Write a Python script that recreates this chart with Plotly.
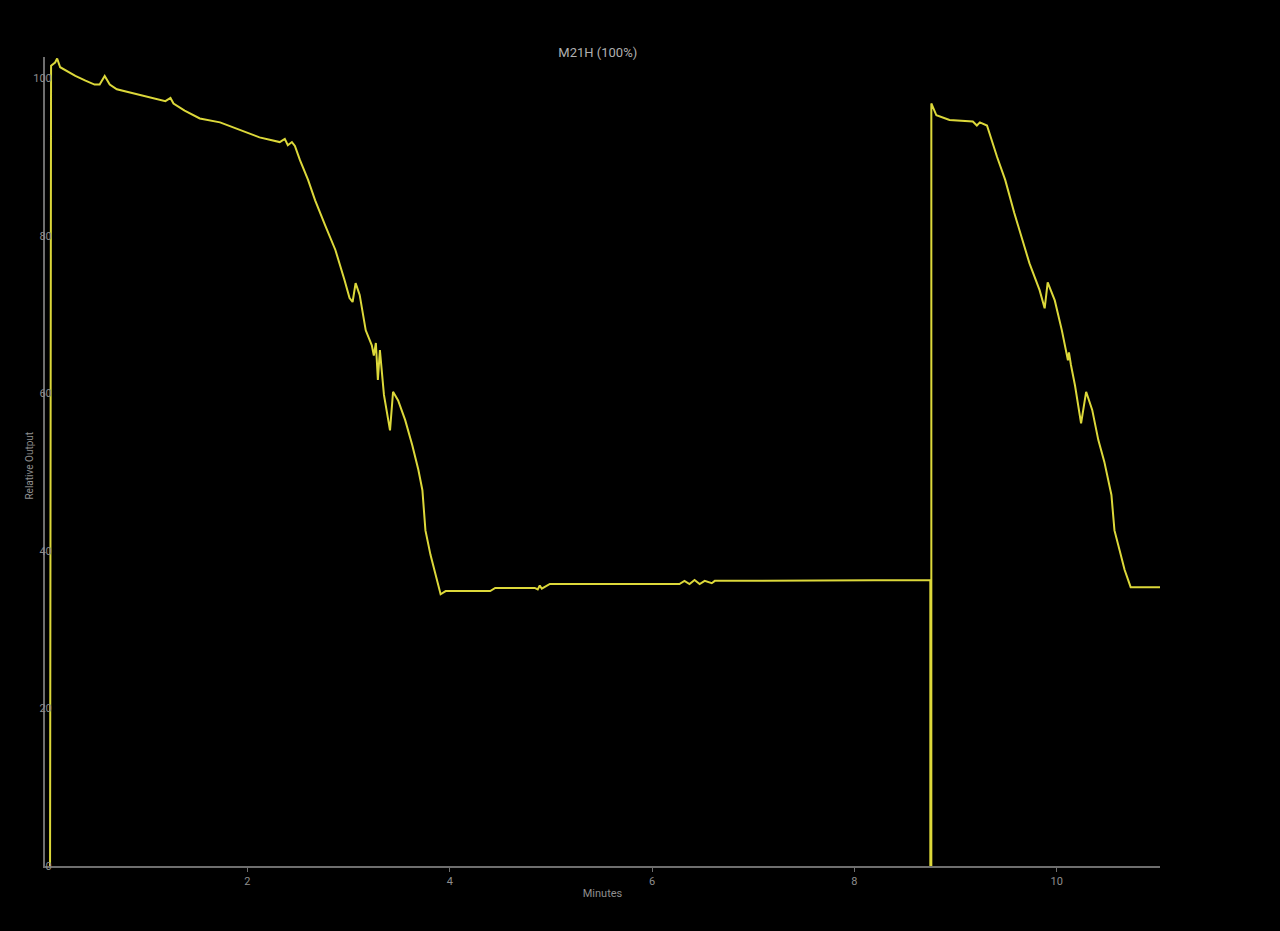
import plotly.graph_objects as go

# Time in minutes and relative output (%), aligned row by row (10 per row)
minutes = [
    0.05, 0.06, 0.10, 0.12, 0.15, 0.20, 0.30, 0.40, 0.49, 0.54,
    0.59, 0.64, 0.71, 0.84, 1.04, 1.19, 1.24, 1.27, 1.38, 1.53,
    1.73, 1.93, 2.12, 2.32, 2.37, 2.40, 2.44, 2.47, 2.52, 2.60,
    2.67, 2.77, 2.87, 2.96, 3.01, 3.04, 3.07, 3.11, 3.17, 3.23,
    3.25, 3.27, 3.29, 3.31, 3.35, 3.41, 3.44, 3.49, 3.56, 3.63,
    3.69, 3.73, 3.76, 3.81, 3.87, 3.91, 3.96, 4.40, 4.45, 4.84,
    4.87, 4.89, 4.91, 4.99, 6.27, 6.32, 6.37, 6.42, 6.47, 6.52,
    6.59, 6.62, 8.75, 8.75, 8.76, 8.76, 8.81, 8.94, 9.17, 9.21,
    9.24, 9.31, 9.41, 9.49, 9.58, 9.73, 9.83, 9.88, 9.91, 9.98,
    10.05, 10.11, 10.12, 10.14, 10.18, 10.24, 10.29, 10.35, 10.41, 10.47,
    10.54, 10.57, 10.62, 10.67, 10.73, 11.02,
]
relative_output = [
    0.0, 101.6, 102.0, 102.5, 101.4, 101.0, 100.3, 99.7, 99.2, 99.2,
    100.3, 99.2, 98.6, 98.2, 97.6, 97.1, 97.5, 96.8, 95.9, 94.9,
    94.4, 93.4, 92.5, 91.9, 92.3, 91.5, 91.9, 91.4, 89.6, 87.1,
    84.5, 81.3, 78.2, 74.4, 72.1, 71.6, 74.0, 72.5, 68.0, 66.1,
    64.8, 66.4, 61.7, 65.5, 59.8, 55.3, 60.2, 59.1, 56.6, 53.4,
    50.3, 47.7, 42.6, 39.5, 36.3, 34.5, 34.9, 34.9, 35.3, 35.3,
    35.1, 35.6, 35.2, 35.8, 35.8, 36.2, 35.8, 36.3, 35.8, 36.2,
    35.9, 36.2, 36.3, 0.0, 0.0, 96.8, 95.3, 94.7, 94.5, 94.0,
    94.4, 94.0, 90.0, 87.1, 82.9, 76.5, 73.1, 70.8, 74.1, 71.8,
    68.0, 64.2, 65.2, 63.6, 61.0, 56.2, 60.2, 57.9, 54.1, 51.3,
    47.1, 42.6, 40.1, 37.6, 35.4, 35.4,
]

title_text = "M21H (100%)"
x_title = "Minutes"
y_title = "Relative Output"
x_ticks = [2, 4, 6, 8, 10]
y_ticks = [0, 20, 40, 60, 80, 100]

fig = go.Figure()
fig.add_trace(go.Scatter(
    x=minutes, y=relative_output, mode="lines",
    line=dict(color="#dcd83a", width=2),
    showlegend=False, hoverinfo="skip",
))

axis_font = dict(family="Roboto, Arial, sans-serif", size=11, color="#8e8e8e")

fig.update_layout(
    width=1280, height=931,
    paper_bgcolor="#000000", plot_bgcolor="#000000",
    margin=dict(l=45, r=120, t=57, b=65),
    title=dict(text=title_text, x=0.467, xanchor="center", y=1 - 52 / 931, yanchor="middle",
               yref="container",
               font=dict(family="Roboto, Arial, sans-serif", size=13, color="#b0b0b0")),
    xaxis=dict(
        range=[0, 11.02], tickvals=x_ticks, ticktext=[str(v) for v in x_ticks],
        showgrid=False, zeroline=False, showline=True, linecolor="#6e6e6e", linewidth=2,
        ticks="outside", ticklen=4, tickcolor="#6e6e6e", tickfont=axis_font,
        title=dict(text=x_title, font=axis_font, standoff=2),
    ),
    yaxis=dict(
        range=[0, 102.7], tickvals=y_ticks, ticktext=[str(v) for v in y_ticks],
        showgrid=False, zeroline=False, showline=True, linecolor="#6e6e6e", linewidth=2,
        ticks="", tickfont=axis_font, ticklabelstandoff=-11,
    ),
    annotations=[dict(
        text=y_title, textangle=-90, xref="paper", yref="paper",
        x=-15 / 1115, y=0.495, xanchor="center", yanchor="middle", showarrow=False,
        font=dict(family="Roboto, Arial, sans-serif", size=10, color="#8e8e8e"),
    )],
)

fig.write_html(
    "out.html",
    config={"displayModeBar": False},
    post_script="document.body.style.margin='0';document.body.style.background='#000';",
)
